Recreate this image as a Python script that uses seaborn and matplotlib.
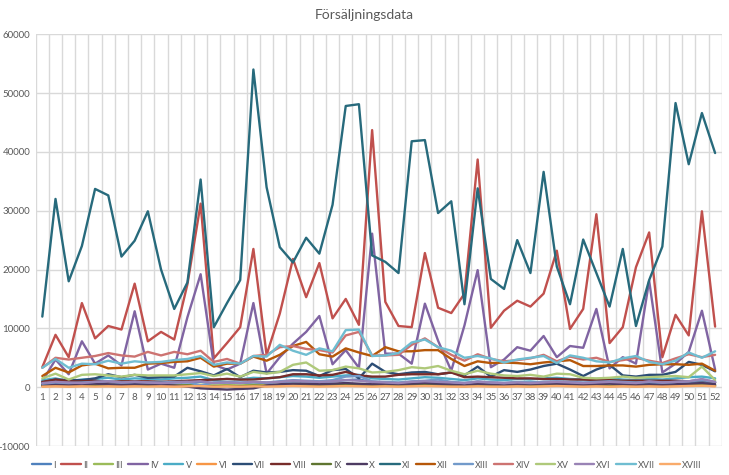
import matplotlib
matplotlib.use("Agg")
import matplotlib.pyplot as plt
import seaborn as sns
import pandas as pd
import numpy as np

weeks = list(range(1, 53))
series_names = ["I", "II", "III", "IV", "V", "VI", "VII", "VIII", "IX",
                "X", "XI", "XII", "XIII", "XIV", "XV", "XVI", "XVII", "XVIII"]
colors = ["#4F81BD", "#C0504D", "#9BBB59", "#8064A2", "#4BACC6", "#F79646",
          "#2C4D75", "#772C2A", "#5F7530", "#4D3B62", "#276A7C", "#B65708",
          "#729ACA", "#CD7371", "#AFC97A", "#9983B5", "#6FBDD1", "#F9AB6B"]

s_I = [500, 700, 600, 700, 800, 900, 700, 800, 700, 700, 800, 800, 900, 700, 800, 700, 800, 700,
       900, 1000, 1000, 900, 1000, 1200, 1300, 900, 800, 700, 800, 900, 900, 800, 700, 900, 800, 700,
       800, 800, 900, 900, 800, 700, 800, 900, 800, 700, 800, 700, 800, 900, 1000, 800]
s_II = [3400, 8900, 5100, 14300, 8300, 10400, 9800, 17600, 7800, 9400, 8100, 17500, 31200, 4900,
        7500, 10200, 23500, 5500, 12500, 21800, 15300, 21100, 11700, 15000, 10600, 43700, 14500,
        10400, 10200, 22800, 13500, 12600, 15900, 38700, 10100, 13000, 14700, 13700, 15900, 23200,
        9900, 13300, 29400, 7500, 10200, 20400, 26300, 5100, 12300, 8800, 29900, 10300]
s_III = [300, 400, 300, 350, 300, 400, 350, 300, 400, 350, 300, 350, 400, 300, 350, 300, 400, 350,
         400, 450, 400, 350, 400, 450, 400, 350, 400, 350, 400, 450, 400, 350, 300, 400, 350, 300,
         350, 300, 350, 400, 350, 300, 350, 300, 350, 300, 350, 300, 350, 400, 450, 350]
s_IV = [1000, 4700, 2200, 7800, 4000, 5400, 3700, 12900, 3000, 4000, 3300, 11900, 19200, 3800,
        3000, 4000, 14300, 2300, 5100, 7400, 9400, 12100, 3900, 6300, 3300, 26100, 5700, 5700,
        4000, 14200, 7900, 2800, 10500, 19900, 3400, 4700, 6800, 6200, 8700, 5100, 7000, 6700,
        13300, 3200, 5100, 4000, 18100, 2500, 4000, 6000, 13000, 3000]
s_V = [1200, 1500, 1000, 1300, 1400, 1600, 1300, 1500, 1400, 1300, 1500, 1600, 1800, 1200, 1400,
       1300, 1600, 1500, 1700, 1900, 1800, 1600, 1800, 2000, 2100, 1500, 1400, 1300, 1500, 1700,
       1600, 1400, 1200, 1500, 1300, 1200, 1400, 1300, 1500, 1600, 1400, 1300, 1400, 1500, 1300,
       1200, 1400, 1300, 1500, 1700, 1800, 1500]
s_VI = [150, 200, 150, 200, 250, 200, 150, 200, 250, 200, 150, 200, 250, 150, 200, 150, 200, 250,
        200, 250, 300, 250, 200, 250, 300, 200, 250, 200, 250, 300, 250, 200, 150, 250, 200, 150,
        200, 150, 200, 250, 200, 150, 200, 150, 200, 150, 200, 150, 200, 250, 300, 200]
s_VII = [800, 1300, 1200, 1200, 1500, 2200, 1700, 2100, 1600, 1700, 1800, 3300, 2700, 2000, 3100,
         1700, 2800, 2500, 2600, 2900, 2800, 1900, 2900, 3100, 1500, 4000, 2600, 2200, 2500, 2600,
         2200, 2500, 2000, 3500, 1800, 2900, 2600, 3000, 3600, 4000, 3000, 1900, 3000, 3800, 2000,
         1800, 2100, 2100, 2600, 4300, 3800, 2700]
s_VIII = [900, 1300, 1000, 1000, 1100, 900, 1000, 1000, 1000, 900, 1000, 1100, 1200, 1300, 1400,
          1300, 1300, 1500, 1700, 2200, 2200, 2000, 2100, 2600, 2000, 1800, 1800, 2100, 2200, 2200,
          2200, 2500, 1700, 1800, 1700, 1600, 1500, 1500, 1400, 1400, 1300, 1300, 1200, 1200, 1100,
          1100, 1100, 1100, 1100, 1000, 1200, 800]
s_IX = [200, 300, 200, 250, 300, 250, 200, 300, 250, 200, 250, 300, 200, 150, 200, 150, 250, 200,
        300, 350, 300, 250, 300, 350, 300, 250, 300, 250, 300, 350, 300, 250, 200, 300, 250, 200,
        250, 200, 250, 300, 250, 200, 250, 200, 250, 200, 250, 200, 250, 300, 350, 250]
s_X = [400, 500, 400, 500, 600, 500, 400, 500, 500, 400, 300, 100, -200, -300, -400, -300, -200,
       300, 500, 600, 600, 500, 600, 700, 600, 500, 600, 500, 600, 700, 600, 500, 400, 600, 500,
       400, 500, 500, 600, 600, 500, 400, 500, 600, 500, 400, 500, 400, 500, 600, 700, 500]
s_XI = [12000, 32000, 18000, 24000, 33700, 32600, 22200, 24900, 29900, 20000, 13300, 17800, 35300,
        10200, 14300, 18200, 54000, 34000, 23800, 21200, 25400, 22700, 31000, 47800, 48100, 22400,
        21300, 19400, 41800, 42000, 29600, 31600, 14100, 33800, 18400, 16700, 25000, 19400, 36600,
        20500, 14100, 25100, 19400, 13700, 23500, 10400, 18200, 23900, 48300, 37900, 46600, 39800]
s_XII = [1900, 3300, 2500, 3700, 4000, 3200, 3300, 3300, 4000, 4100, 4300, 4400, 5000, 3500, 4000,
         4000, 5200, 4500, 5500, 7000, 7700, 5600, 5200, 6600, 5900, 5300, 6800, 6100, 6100, 6300,
         6300, 4800, 3600, 4400, 4100, 4200, 4100, 3900, 4200, 4400, 4600, 3600, 3600, 3700, 3700,
         3500, 3800, 3900, 3900, 3800, 4000, 2800]
s_XIII = [600, 800, 700, 800, 900, 1000, 800, 900, 800, 800, 900, 900, 300, 800, 900, 800, 900,
          800, 1000, 1200, 1100, 1000, 1200, 1800, 1900, 1000, 900, 800, 1000, 1100, 1300, 900,
          700, 1000, 800, 700, 900, 800, 900, 1000, 900, 800, 900, 1000, 900, 800, 900, 800, 900,
          1000, 1200, 900]
s_XIV = [3300, 5000, 4700, 5000, 5300, 5800, 5400, 5200, 6000, 5400, 6000, 5600, 6200, 4300, 4800,
         4000, 5300, 5500, 6800, 7000, 6500, 6300, 5900, 8800, 9400, 5400, 5400, 5500, 7200, 8300,
         6800, 5500, 4500, 5600, 4800, 4400, 4600, 4900, 5500, 4400, 5200, 4700, 5000, 4300, 4600,
         5000, 4500, 4100, 4900, 5600, 5100, 5500]
s_XV = [1500, 2300, 1300, 2100, 2200, 2000, 1800, 2100, 2000, 2000, 2000, 2200, 2400, 1900, 2300,
        1800, 2600, 2300, 2600, 3800, 4200, 2800, 2900, 3500, 3200, 2500, 2600, 2900, 3400, 3200,
        3600, 2800, 2200, 2800, 2300, 2000, 1900, 2100, 1800, 2300, 2200, 1600, 1500, 1600, 1800,
        1600, 1700, 1800, 1900, 1700, 3500, 1200]
s_XVI = [700, 900, 800, 700, 900, 1000, 800, 900, 800, 700, 800, 900, 1000, 700, 800, 700, 900,
         800, 900, 1100, 1000, 900, 1000, 1200, 1100, 900, 800, 700, 900, 1000, 900, 800, 700, 900,
         800, 700, 800, 700, 800, 900, 800, 700, 800, 900, 800, 700, 1000, 800, 900, 1000, 1400, 900]
s_XVII = [3300, 4800, 3300, 4000, 3900, 4500, 4000, 4400, 4200, 4300, 4600, 4800, 5300, 3800, 4200,
          4000, 5300, 5200, 7200, 6200, 5500, 6600, 6100, 9700, 9800, 5300, 5400, 5800, 7600, 8100,
          6800, 6200, 5000, 5300, 4900, 4200, 4700, 5000, 5300, 4100, 5400, 5000, 4400, 4200, 4900,
          5300, 4300, 3900, 4500, 5900, 5000, 6100]
s_XVIII = [100, 150, 100, 150, 100, 150, 100, 150, 100, 150, 100, 150, 200, 100, 150, 100, 150, 100,
           150, 200, 150, 100, 150, 200, 150, 100, 150, 100, 150, 200, 150, 100, 100, 150, 100, 100,
           150, 100, 150, 200, 150, 100, 150, 100, 150, 100, 150, 100, 150, 200, 250, 150]

all_series = [s_I, s_II, s_III, s_IV, s_V, s_VI, s_VII, s_VIII, s_IX, s_X, s_XI, s_XII,
              s_XIII, s_XIV, s_XV, s_XVI, s_XVII, s_XVIII]

rows = []
for name, vals in zip(series_names, all_series):
    for w, v in zip(weeks, vals):
        rows.append({"week": w, "series": name, "value": v})
df = pd.DataFrame(rows)

sns.set_style("white")
plt.rcParams["font.family"] = ["Lato", "DejaVu Sans"]

fig = plt.figure(figsize=(7.29, 4.75), dpi=100)
ax = fig.add_axes([0.049, 0.061, 0.941, 0.867])

sns.lineplot(data=df, x="week", y="value", hue="series", hue_order=series_names,
             palette=colors, linewidth=1.7, ax=ax, legend=True, estimator=None)

ax.set_xlim(0.5, 52.5)
ax.set_ylim(-10000, 60000)
ax.set_yticks(np.arange(-10000, 60001, 10000))
ax.set_yticklabels([str(v) for v in range(-10000, 60001, 10000)], fontsize=7, color="#595959")
ax.set_xticks(np.arange(0.5, 53, 1), minor=False)
ax.set_xticklabels([])
ax.grid(True, color="#D9D9D9", linewidth=1.0)
ax.set_axisbelow(True)
ax.tick_params(axis="both", length=0, pad=4)
for sp in ax.spines.values():
    sp.set_visible(False)

# category labels placed just below the zero line
for w in weeks:
    ax.annotate(str(w), xy=(w, 0), xytext=(0, -4), textcoords="offset points",
                ha="center", va="top", fontsize=7, color="#595959")

ax.set_xlabel("")
ax.set_ylabel("")
ax.set_title("")
fig.text(0.5, 0.968, "Försäljningsdata", ha="center", va="center", fontsize=10, color="#595959")

handles, labels = ax.get_legend_handles_labels()
ax.get_legend().remove()
leg = fig.legend(handles, labels, loc="center", bbox_to_anchor=(0.503, 0.021), ncol=18,
                 frameon=False, fontsize=6.5, handlelength=2.15, handletextpad=0.25,
                 columnspacing=0.6, labelcolor="#595959")

fig.savefig("out.png", dpi=100)
